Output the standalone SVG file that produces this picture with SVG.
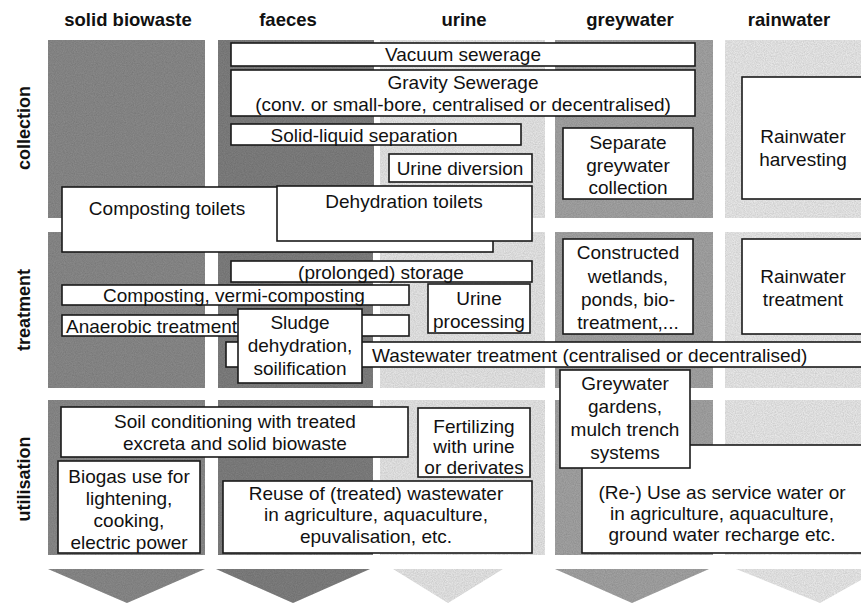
<svg xmlns="http://www.w3.org/2000/svg" width="861" height="603" viewBox="0 0 861 603">
<style>
  .hdr { font-family: "Liberation Sans", Arial, sans-serif; font-weight: bold; font-size: 18.5px; fill: #111; text-anchor: middle; }
  .row { font-family: "Liberation Sans", Arial, sans-serif; font-weight: bold; font-size: 18px; fill: #111; text-anchor: middle; }
  .box { fill: #ffffff; stroke: #1a1a1a; stroke-width: 1.6; }
  .t { font-family: "Liberation Sans", Arial, sans-serif; font-size: 19px; fill: #111; text-anchor: middle; }
  .tl { font-family: "Liberation Sans", Arial, sans-serif; font-size: 19px; fill: #111; text-anchor: start; }
  .c1 { fill: #8e8e8e; }
  .c2 { fill: #838383; }
  .c3 { fill: #ededed; }
  .c4 { fill: #a8a8a8; }
  .c5 { fill: #f0f0f0; }
</style>
<defs>
  <filter id="grain" x="0" y="0" width="100%" height="100%">
    <feTurbulence type="fractalNoise" baseFrequency="0.9" numOctaves="2" seed="3" result="n"/>
    <feColorMatrix in="n" type="matrix" values="0 0 0 0 0  0 0 0 0 0  0 0 0 0 0  0 0 0 0.35 0" result="a"/>
    <feComposite in="a" in2="SourceGraphic" operator="in" result="m"/>
    <feMerge><feMergeNode in="SourceGraphic"/><feMergeNode in="m"/></feMerge>
  </filter>
</defs>
<rect width="861" height="603" fill="#ffffff"/>

<!-- headers -->
<g id="headers">
  <text class="hdr" x="128" y="26">solid biowaste</text>
  <text class="hdr" x="288" y="26">faeces</text>
  <text class="hdr" x="464" y="26">urine</text>
  <text class="hdr" x="630" y="26">greywater</text>
  <text class="hdr" x="789" y="26">rainwater</text>
</g>
<g id="row-labels">
  <text class="row" transform="translate(30,128) rotate(-90)">collection</text>
  <text class="row" transform="translate(30,310) rotate(-90)">treatment</text>
  <text class="row" transform="translate(30,479) rotate(-90)">utilisation</text>
</g>

<!-- column backgrounds -->
<g id="columns" filter="url(#grain)">
  <rect class="c1" x="48" y="40" width="157" height="178"/>
  <rect class="c1" x="48" y="232" width="157" height="156"/>
  <rect class="c1" x="48" y="400" width="157" height="155"/>
  <rect class="c2" x="218" y="40" width="156" height="178"/>
  <rect class="c2" x="218" y="232" width="155" height="156"/>
  <rect class="c2" x="218" y="400" width="155" height="155"/>
  <rect class="c3" x="380" y="40" width="165" height="178"/>
  <rect class="c3" x="380" y="232" width="165" height="156"/>
  <rect class="c3" x="380" y="400" width="165" height="155"/>
  <rect class="c4" x="555" y="40" width="158" height="178"/>
  <rect class="c4" x="555" y="232" width="158" height="156"/>
  <rect class="c4" x="555" y="400" width="158" height="155"/>
  <rect class="c5" x="725" y="40" width="136" height="178"/>
  <rect class="c5" x="725" y="232" width="136" height="156"/>
  <rect class="c5" x="725" y="400" width="136" height="155"/>
</g>

<g id="arrows" filter="url(#grain)">
  <polygon class="c1" points="48,569 205,569 127,603"/>
  <polygon class="c2" points="216,569 370,569 293,603"/>
  <polygon class="c3" points="393,569 503,569 448,603"/>
  <polygon class="c4" points="555,569 709,569 632,603"/>
  <polygon class="c5" points="736,569 861,569 861,580 820,603"/>
</g>

<!-- collection -->
<g id="vacuum-sewerage">
  <rect class="box" x="231" y="43" width="464" height="23"/>
  <text class="t" x="463" y="61">Vacuum sewerage</text>
</g>
<g id="gravity-sewerage">
  <rect class="box" x="231" y="70" width="464" height="46"/>
  <text class="t" x="463" y="89">Gravity Sewerage</text>
  <text class="t" x="463" y="111">(conv. or small-bore, centralised or decentralised)</text>
</g>
<g id="solid-liquid-separation">
  <rect class="box" x="231" y="124" width="290" height="21"/>
  <text class="t" x="364" y="142">Solid-liquid separation</text>
</g>
<g id="urine-diversion">
  <rect class="box" x="389" y="154" width="143" height="28"/>
  <text class="t" x="460" y="175">Urine diversion</text>
</g>
<g id="separate-greywater-collection">
  <rect class="box" x="563" y="128" width="130" height="71"/>
  <text class="t" x="628" y="149">Separate</text>
  <text class="t" x="628" y="172">greywater</text>
  <text class="t" x="628" y="194">collection</text>
</g>
<g id="rainwater-harvesting">
  <rect class="box" x="742" y="77" width="125" height="122"/>
  <text class="t" x="803" y="143">Rainwater</text>
  <text class="t" x="803" y="166">harvesting</text>
</g>
<g id="composting-toilets">
  <rect class="box" x="62" y="187" width="431" height="65"/>
  <text class="t" x="167" y="215">Composting toilets</text>
</g>
<g id="dehydration-toilets">
  <rect class="box" x="277" y="186" width="255" height="55"/>
  <text class="t" x="404" y="208">Dehydration toilets</text>
</g>

<!-- treatment -->
<g id="prolonged-storage">
  <rect class="box" x="231" y="261" width="301" height="21"/>
  <text class="t" x="381" y="279">(prolonged) storage</text>
</g>
<g id="composting">
  <rect class="box" x="62" y="285" width="347" height="20"/>
  <text class="t" x="234" y="302">Composting, vermi-composting</text>
</g>
<g id="anaerobic-treatment">
  <rect class="box" x="62" y="315" width="347" height="21"/>
  <text class="tl" x="66" y="333">Anaerobic treatment</text>
</g>
<g id="urine-processing">
  <rect class="box" x="428" y="284" width="102" height="49"/>
  <text class="t" x="479" y="305">Urine</text>
  <text class="t" x="479" y="328">processing</text>
</g>
<g id="wastewater-treatment">
  <rect class="box" x="226" y="342" width="645" height="25"/>
  <text class="tl" x="372" y="362">Wastewater treatment (centralised or decentralised)</text>
</g>
<g id="sludge-dehydration">
  <rect class="box" x="238" y="309" width="124" height="74"/>
  <text class="t" x="300" y="329">Sludge</text>
  <text class="t" x="300" y="352">dehydration,</text>
  <text class="t" x="300" y="375">soilification</text>
</g>
<g id="constructed-wetlands">
  <rect class="box" x="563" y="239" width="130" height="95"/>
  <text class="t" x="628" y="259">Constructed</text>
  <text class="t" x="628" y="283">wetlands,</text>
  <text class="t" x="628" y="306">ponds, bio-</text>
  <text class="t" x="628" y="329">treatment,...</text>
</g>
<g id="rainwater-treatment">
  <rect class="box" x="742" y="239" width="125" height="95"/>
  <text class="t" x="803" y="283">Rainwater</text>
  <text class="t" x="803" y="306">treatment</text>
</g>

<!-- utilisation -->
<g id="soil-conditioning">
  <rect class="box" x="61" y="407" width="347" height="50"/>
  <text class="t" x="235" y="428">Soil conditioning with treated</text>
  <text class="t" x="235" y="450">excreta and solid biowaste</text>
</g>
<g id="fertilizing">
  <rect class="box" x="418" y="408" width="112" height="69"/>
  <text class="t" x="474" y="433">Fertilizing</text>
  <text class="t" x="474" y="453">with urine</text>
  <text class="t" x="474" y="474">or derivates</text>
</g>
<g id="biogas-use">
  <rect class="box" x="58" y="461" width="142" height="92"/>
  <text class="t" x="129" y="483">Biogas use for</text>
  <text class="t" x="129" y="505">lightening,</text>
  <text class="t" x="129" y="527">cooking,</text>
  <text class="t" x="129" y="549">electric power</text>
</g>
<g id="reuse-wastewater">
  <rect class="box" x="223" y="481" width="309" height="72"/>
  <text class="t" x="376" y="500">Reuse of (treated) wastewater</text>
  <text class="t" x="376" y="521">in agriculture, aquaculture,</text>
  <text class="t" x="376" y="543">epuvalisation, etc.</text>
</g>
<g id="re-use-service-water">
  <rect class="box" x="582" y="445" width="285" height="108"/>
  <text class="t" x="722" y="499">(Re-) Use as service water or</text>
  <text class="t" x="722" y="520">in agriculture, aquaculture,</text>
  <text class="t" x="722" y="541">ground water recharge etc.</text>
</g>
<g id="greywater-gardens">
  <rect class="box" x="560" y="370" width="130" height="98"/>
  <text class="t" x="625" y="390">Greywater</text>
  <text class="t" x="625" y="413">gardens,</text>
  <text class="t" x="625" y="436">mulch trench</text>
  <text class="t" x="625" y="459">systems</text>
</g>
</svg>
